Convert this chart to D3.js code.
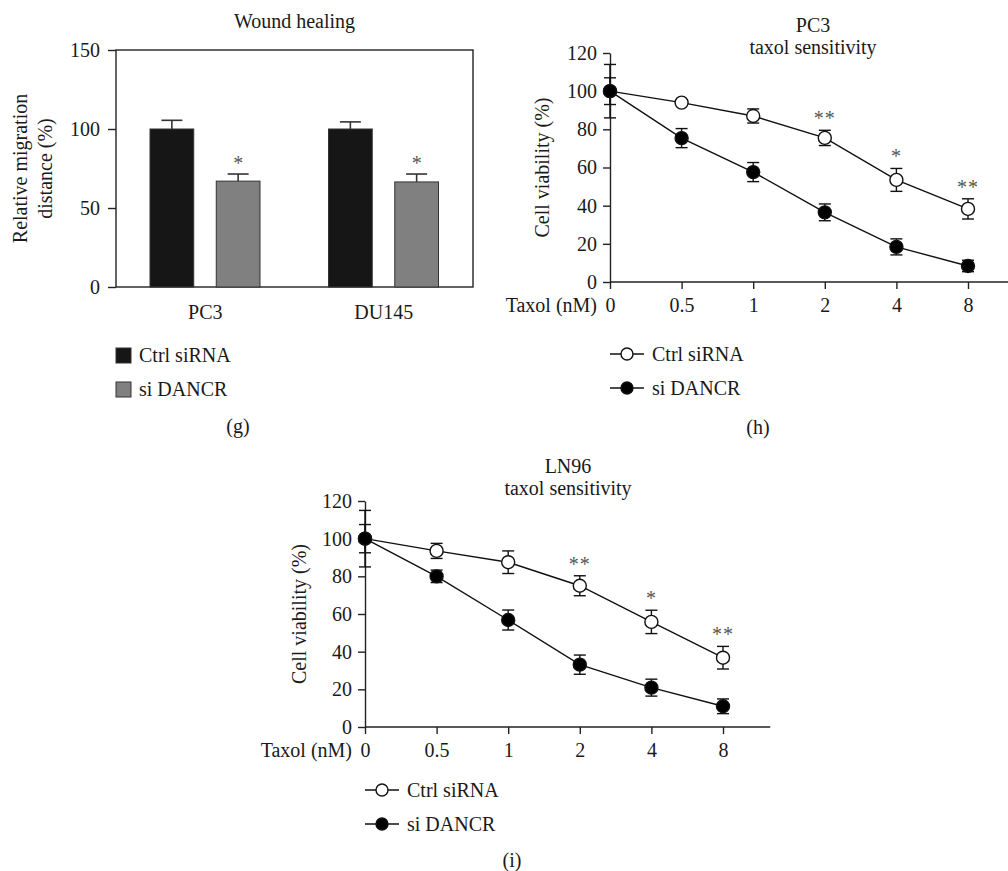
<!DOCTYPE html>
<html>
<head>
<meta charset="utf-8">
<script src="https://cdn.jsdelivr.net/npm/d3@7"></script>
<style>
  body { margin: 0; background: #fff; }
  svg, svg text { font-family: "Liberation Serif", "Times New Roman", Tinos, "DejaVu Serif", "Noto Serif", serif; }
  .axis text { font-size: 20px; fill: #1a1a1a; }
  .axis path, .axis line { stroke: #222; stroke-width: 1.4px; }
</style>
</head>
<body>
<svg width="1008" height="871"></svg>
<script>
'use strict';
// wound healing (g)
var woundGroups = ['PC3', 'DU145'];
var woundSeries = ['Ctrl siRNA', 'si DANCR'];
var woundCtrl = [100, 100];
var woundCtrlErr = [5.5, 4.5];
var woundSi = [67, 66.5];
var woundSiErr = [4.5, 5];
var woundStars = ['*', '*'];
var woundTicks = [0, 50, 100, 150];

// taxol sensitivity (h) and (i)
var doses = ['0', '0.5', '1', '2', '4', '8'];
var viabilityTicks = [0, 20, 40, 60, 80, 100, 120];
var pc3Ctrl = [100, 94, 87, 75.5, 53.5, 38.3];
var pc3CtrlErr = [7, 1.5, 3.7, 4, 6, 5.3];
var pc3Si = [100, 75.4, 57.6, 36.5, 18.4, 8.4];
var pc3SiErr = [14, 5, 5, 4.4, 4.2, 3];
var pc3Stars = ['', '', '', '**', '*', '**'];
var ln96Ctrl = [100, 93.5, 87.5, 75, 55.8, 36.8];
var ln96CtrlErr = [7.5, 4, 6, 5.3, 6.2, 6];
var ln96Si = [100, 80, 56.8, 33.1, 20.9, 11];
var ln96SiErr = [15, 3.3, 5.3, 5.1, 4.5, 3.9];
var ln96Stars = ['', '', '', '**', '*', '**'];

(() => {
  var svg = d3.select('svg');
  var FONT = '"Liberation Serif", "Times New Roman", Tinos, "DejaVu Serif", serif';
  var TXT = '#1a1a1a';
  var STAR = '#555';
  var COLORS = ['#161616', '#808080'];

  function label(g, x, y, t, anchor) {
    return g.append('text')
      .attr('x', x)
      .attr('y', y)
      .attr('text-anchor', anchor || 'middle')
      .attr('font-family', FONT)
      .attr('font-size', 20)
      .attr('fill', TXT)
      .text(t);
  }

  function drawWound() {
    var g = svg.append('g');
    var y = d3.scaleLinear().domain([0, 150]).range([287, 50]);
    var x0 = d3.scaleBand().domain(woundGroups).range([116, 473]);
    var x1 = d3.scaleBand().domain(woundSeries).range([34, 144]).paddingInner(0.34);
    var rows = woundGroups.map((k, i) => ({
      group: k,
      vals: [
        {s: woundSeries[0], v: woundCtrl[i], e: woundCtrlErr[i], star: ''},
        {s: woundSeries[1], v: woundSi[i], e: woundSiErr[i], star: woundStars[i]}
      ]
    }));

    g.append('rect')
      .attr('x', x0.range()[0])
      .attr('y', y.range()[1])
      .attr('width', x0.range()[1] - x0.range()[0])
      .attr('height', y.range()[0] - y.range()[1])
      .attr('fill', 'none')
      .attr('stroke', '#222')
      .attr('stroke-width', 1.4);

    g.append('g')
      .attr('class', 'axis')
      .attr('transform', `translate(${x0.range()[0]},0)`)
      .call(d3.axisLeft(y).tickValues(woundTicks).tickSize(8).tickPadding(8))
      .call(a => a.select('.domain').remove())
      .call(a => a.selectAll('text').attr('font-family', FONT));

    var grp = g.selectAll('g.grp').data(rows).enter().append('g')
      .attr('class', 'grp')
      .attr('transform', d => `translate(${x0(d.group)},0)`);

    var bar = grp.selectAll('g.bar').data(d => d.vals).enter().append('g')
      .attr('class', 'bar');
    bar.append('line')
      .attr('x1', d => x1(d.s) + x1.bandwidth() / 2)
      .attr('x2', d => x1(d.s) + x1.bandwidth() / 2)
      .attr('y1', d => y(d.v))
      .attr('y2', d => y(d.v + d.e))
      .attr('stroke', '#333')
      .attr('stroke-width', 1.6);
    bar.append('line')
      .attr('x1', d => x1(d.s) + x1.bandwidth() / 2 - 10.5)
      .attr('x2', d => x1(d.s) + x1.bandwidth() / 2 + 10.5)
      .attr('y1', d => y(d.v + d.e))
      .attr('y2', d => y(d.v + d.e))
      .attr('stroke', '#333')
      .attr('stroke-width', 1.6);
    bar.append('rect')
      .attr('x', d => x1(d.s))
      .attr('y', d => y(d.v))
      .attr('width', x1.bandwidth())
      .attr('height', d => y(0) - y(d.v))
      .attr('fill', (d, i) => COLORS[i])
      .attr('stroke', '#333')
      .attr('stroke-width', 1);
    bar.append('text')
      .attr('x', d => x1(d.s) + x1.bandwidth() / 2)
      .attr('y', d => y(d.v + d.e) - 4)
      .attr('text-anchor', 'middle')
      .attr('font-family', FONT)
      .attr('font-size', 20)
      .attr('fill', STAR)
      .text(d => d.star);

    woundGroups.forEach(d => label(g, x0(d) + x0.bandwidth() / 2, 319, d));
    label(g, (x0.range()[0] + x0.range()[1]) / 2, 28, 'Wound healing');

    var cy = (y.range()[0] + y.range()[1]) / 2;
    [['Relative migration', 27], ['distance (%)', 52]].forEach(t => {
      label(g, 0, 0, t[0])
        .attr('transform', `translate(${t[1]},${cy}) rotate(-90)`);
    });

    var leg = g.selectAll('g.leg').data(woundSeries).enter().append('g')
      .attr('class', 'leg')
      .attr('transform', (d, i) => `translate(116,${348 + i * 34})`);
    leg.append('rect')
      .attr('width', 15)
      .attr('height', 15)
      .attr('fill', (d, i) => COLORS[i])
      .attr('stroke', '#333')
      .attr('stroke-width', 1);
    leg.append('text')
      .attr('x', 23)
      .attr('y', 14)
      .attr('font-family', FONT)
      .attr('font-size', 20)
      .attr('fill', TXT)
      .text(d => d);

    label(g, 238, 433, '(g)');
  }

  function drawViability(cfg) {
    var g = svg.append('g');
    var x = d3.scalePoint().domain(doses).range(cfg.xr);
    var y = d3.scaleLinear().domain([0, 120]).range(cfg.yr);
    var series = [
      {name: 'Ctrl siRNA', fill: '#fff', vals: cfg.ctrl, errs: cfg.ctrlErr},
      {name: 'si DANCR', fill: '#000', vals: cfg.si, errs: cfg.siErr}
    ];
    var step = x.step();

    g.append('line')
      .attr('x1', x(doses[0]))
      .attr('x2', x(doses[doses.length - 1]) + step * 0.66)
      .attr('y1', y(0))
      .attr('y2', y(0))
      .attr('stroke', '#222')
      .attr('stroke-width', 1.4);
    g.append('g')
      .attr('class', 'axis')
      .attr('transform', `translate(0,${y(0)})`)
      .call(d3.axisBottom(x).tickSize(7).tickPadding(9))
      .call(a => a.select('.domain').remove())
      .call(a => a.selectAll('text').attr('font-family', FONT));
    g.append('g')
      .attr('class', 'axis')
      .attr('transform', `translate(${x(doses[0])},0)`)
      .call(d3.axisLeft(y).tickValues(viabilityTicks).tickSize(7).tickPadding(6).tickSizeOuter(0))
      .call(a => a.selectAll('text').attr('font-family', FONT));

    label(g, x(doses[0]) - 13, y(0) + 30, 'Taxol (nM)', 'end');
    label(g, 0, 0, 'Cell viability (%)')
      .attr('transform', `translate(${cfg.ylabX},${(y.range()[0] + y.range()[1]) / 2}) rotate(-90)`);
    cfg.title.forEach((t, i) => label(g, cfg.titleX, cfg.titleY + i * 22, t));

    var line = d3.line()
      .x((d, i) => x(doses[i]))
      .y(d => y(d));
    series.forEach(s => {
      g.append('path')
        .datum(s.vals)
        .attr('d', line)
        .attr('fill', 'none')
        .attr('stroke', '#111')
        .attr('stroke-width', 1.4);
    });
    series.forEach(s => {
      var eb = g.append('g').selectAll('g').data(s.vals).enter().append('g')
        .attr('stroke', '#111')
        .attr('stroke-width', 1.4);
      eb.append('line')
        .attr('x1', (d, i) => x(doses[i]))
        .attr('x2', (d, i) => x(doses[i]))
        .attr('y1', (d, i) => y(d - s.errs[i]))
        .attr('y2', (d, i) => y(d + s.errs[i]));
      [-1, 1].forEach(sg => {
        eb.append('line')
          .attr('x1', (d, i) => x(doses[i]) - 6)
          .attr('x2', (d, i) => x(doses[i]) + 6)
          .attr('y1', (d, i) => y(d + sg * s.errs[i]))
          .attr('y2', (d, i) => y(d + sg * s.errs[i]));
      });
    });
    series.forEach(s => {
      g.append('g').selectAll('circle').data(s.vals).enter().append('circle')
        .attr('cx', (d, i) => x(doses[i]))
        .attr('cy', d => y(d))
        .attr('r', 6.5)
        .attr('fill', s.fill)
        .attr('stroke', '#111')
        .attr('stroke-width', 1.4);
    });

    g.selectAll('text.star').data(cfg.stars).enter().append('text')
      .attr('class', 'star')
      .attr('x', (d, i) => x(doses[i]))
      .attr('y', (d, i) => y(cfg.ctrl[i] + cfg.ctrlErr[i]) - 5)
      .attr('text-anchor', 'middle')
      .attr('font-family', FONT)
      .attr('font-size', 20)
      .attr('letter-spacing', 1)
      .attr('fill', STAR)
      .text(d => d);

    var leg = g.selectAll('g.leg').data(series).enter().append('g')
      .attr('class', 'leg')
      .attr('transform', (d, i) => `translate(${cfg.legX},${cfg.legY + i * 34})`);
    leg.append('line')
      .attr('x1', 0)
      .attr('x2', 34)
      .attr('stroke', '#111')
      .attr('stroke-width', 1.4);
    leg.append('circle')
      .attr('cx', 17)
      .attr('r', 6)
      .attr('fill', d => d.fill)
      .attr('stroke', '#111')
      .attr('stroke-width', 1.4);
    leg.append('text')
      .attr('x', 42)
      .attr('y', 7)
      .attr('font-family', FONT)
      .attr('font-size', 20)
      .attr('fill', TXT)
      .text(d => d.name);

    label(g, cfg.tagX, cfg.tagY, cfg.tag);
  }

  drawWound();
  drawViability({
    xr: [610, 968], yr: [282, 53],
    ctrl: pc3Ctrl, ctrlErr: pc3CtrlErr, si: pc3Si, siErr: pc3SiErr, stars: pc3Stars,
    title: ['PC3', 'taxol sensitivity'], titleX: 813, titleY: 32,
    ylabX: 549, legX: 610, legY: 354, tag: '(h)', tagX: 758, tagY: 434
  });
  drawViability({
    xr: [365, 723], yr: [727, 501],
    ctrl: ln96Ctrl, ctrlErr: ln96CtrlErr, si: ln96Si, siErr: ln96SiErr, stars: ln96Stars,
    title: ['LN96', 'taxol sensitivity'], titleX: 568, titleY: 473,
    ylabX: 306, legX: 365, legY: 790, tag: '(i)', tagX: 512, tagY: 867
  });
})();
</script>
</body>
</html>
